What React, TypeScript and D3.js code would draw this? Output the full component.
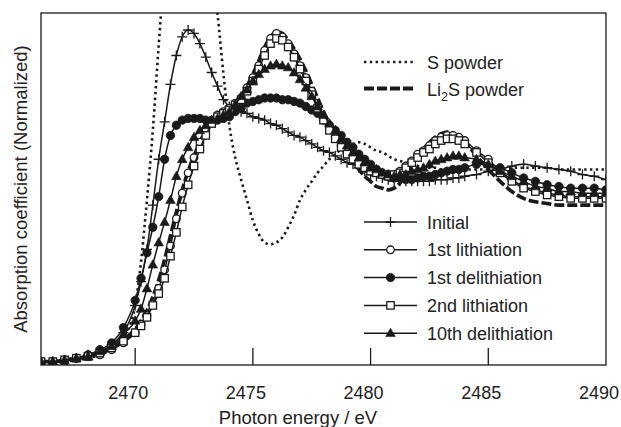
import React from 'react';
import * as d3 from 'd3';

const energy = [2466, 2466.5, 2467, 2467.5, 2468, 2468.5, 2469, 2469.5,
  2470, 2470.25, 2470.5, 2470.75, 2471, 2471.25, 2471.5, 2471.75,
  2472, 2472.25, 2472.5, 2472.75, 2473, 2473.25, 2473.5, 2473.75,
  2474, 2474.25, 2474.5, 2474.75, 2475, 2475.25, 2475.5, 2475.75,
  2476, 2476.25, 2476.5, 2476.75, 2477, 2477.25, 2477.5, 2477.75,
  2478, 2478.25, 2478.5, 2478.75, 2479, 2479.25, 2479.5, 2479.75,
  2480, 2480.25, 2480.5, 2480.75, 2481, 2481.25, 2481.5, 2481.75,
  2482, 2482.25, 2482.5, 2482.75, 2483, 2483.25, 2483.5, 2483.75,
  2484,
  2484.5, 2485, 2485.5, 2486, 2486.5, 2487, 2487.5, 2488, 2488.5, 2489, 2489.5, 2490];

const sPowder = [0.02, 0.02, 0.02, 0.03, 0.04, 0.06, 0.09, 0.16,
  0.35, 0.61, 0.97, 1.38, 1.88, 2.32, 2.62, 2.79,
  2.88, 2.91, 2.88, 2.78, 2.59, 2.32, 2.06, 1.71,
  1.41, 1.22, 1.09, 0.97, 0.85, 0.77, 0.72, 0.71,
  0.72, 0.75, 0.81, 0.88, 0.97, 1.03, 1.08, 1.13,
  1.17, 1.21, 1.24, 1.27, 1.29, 1.30, 1.31, 1.30,
  1.28, 1.26, 1.25, 1.23, 1.21, 1.20, 1.19, 1.18,
  1.17, 1.16, 1.16, 1.16, 1.15, 1.15, 1.15, 1.15,
  1.15,
  1.15, 1.15, 1.15, 1.16, 1.16, 1.16, 1.16, 1.15, 1.15, 1.15, 1.15, 1.15];

const li2sPowder = [0.02, 0.02, 0.03, 0.04, 0.05, 0.07, 0.10, 0.15,
  0.21, 0.26, 0.32, 0.40, 0.50, 0.62, 0.76, 0.90,
  1.03, 1.14, 1.23, 1.31, 1.38, 1.43, 1.46, 1.49,
  1.51, 1.54, 1.58, 1.64, 1.71, 1.79, 1.87, 1.93,
  1.96, 1.95, 1.91, 1.86, 1.80, 1.73, 1.65, 1.57,
  1.49, 1.42, 1.36, 1.30, 1.25, 1.20, 1.15, 1.11,
  1.08, 1.05, 1.04, 1.03, 1.04, 1.07, 1.12, 1.18,
  1.23, 1.27, 1.31, 1.34, 1.36, 1.37, 1.36, 1.34,
  1.31,
  1.23, 1.15, 1.08, 1.02, 0.98, 0.96, 0.95, 0.94, 0.94, 0.94, 0.94, 0.94];

const initial = [0.02, 0.02, 0.03, 0.04, 0.06, 0.08, 0.12, 0.19,
  0.35, 0.49, 0.68, 0.94, 1.21, 1.43, 1.65, 1.82,
  1.93, 1.97, 1.95, 1.89, 1.81, 1.72, 1.64, 1.56,
  1.52, 1.50, 1.49, 1.48, 1.46, 1.45, 1.44, 1.42,
  1.41, 1.39, 1.37, 1.35, 1.34, 1.32, 1.30, 1.28,
  1.26, 1.25, 1.23, 1.21, 1.19, 1.18, 1.16, 1.14,
  1.12, 1.11, 1.10, 1.09, 1.08, 1.08, 1.08, 1.08,
  1.08, 1.08, 1.08, 1.09, 1.09, 1.09, 1.10, 1.10,
  1.11,
  1.12, 1.14, 1.15, 1.17, 1.18, 1.17, 1.16, 1.15, 1.14, 1.12, 1.11, 1.09];

const lith1 = [0.02, 0.02, 0.02, 0.04, 0.05, 0.06, 0.09, 0.13,
  0.19, 0.24, 0.29, 0.36, 0.45, 0.56, 0.70, 0.86,
  1.01, 1.13, 1.22, 1.31, 1.38, 1.44, 1.47, 1.49,
  1.51, 1.54, 1.57, 1.63, 1.69, 1.76, 1.85, 1.92,
  1.95, 1.93, 1.89, 1.83, 1.76, 1.69, 1.61, 1.52,
  1.45, 1.39, 1.34, 1.29, 1.25, 1.22, 1.19, 1.16,
  1.15, 1.14, 1.12, 1.12, 1.12, 1.14, 1.17, 1.20,
  1.24, 1.26, 1.29, 1.32, 1.34, 1.35, 1.35, 1.34,
  1.32,
  1.26, 1.21, 1.14, 1.09, 1.05, 1.03, 1.01, 1.00, 0.99, 0.99, 0.99, 0.99];

const delith1 = [0.02, 0.02, 0.03, 0.04, 0.06, 0.09, 0.13, 0.22,
  0.38, 0.51, 0.66, 0.81, 0.99, 1.21, 1.35, 1.41,
  1.44, 1.45, 1.45, 1.45, 1.44, 1.43, 1.44, 1.45,
  1.46, 1.49, 1.51, 1.54, 1.55, 1.56, 1.57, 1.57,
  1.57, 1.56, 1.56, 1.55, 1.54, 1.52, 1.50, 1.48,
  1.44, 1.41, 1.38, 1.35, 1.31, 1.28, 1.24, 1.21,
  1.18, 1.15, 1.13, 1.11, 1.10, 1.10, 1.09, 1.09,
  1.10, 1.11, 1.11, 1.12, 1.13, 1.14, 1.15, 1.15,
  1.16,
  1.18, 1.18, 1.16, 1.13, 1.10, 1.08, 1.06, 1.05, 1.04, 1.04, 1.04, 1.03];

const lith2 = [0.02, 0.02, 0.03, 0.04, 0.05, 0.07, 0.10, 0.14,
  0.19, 0.23, 0.28, 0.35, 0.42, 0.51, 0.64, 0.78,
  0.93, 1.06, 1.17, 1.27, 1.35, 1.42, 1.46, 1.48,
  1.50, 1.53, 1.56, 1.61, 1.67, 1.74, 1.82, 1.89,
  1.92, 1.91, 1.87, 1.81, 1.74, 1.67, 1.59, 1.51,
  1.44, 1.38, 1.33, 1.28, 1.24, 1.21, 1.18, 1.16,
  1.14, 1.13, 1.12, 1.11, 1.12, 1.13, 1.16, 1.19,
  1.22, 1.25, 1.27, 1.30, 1.32, 1.33, 1.33, 1.32,
  1.30,
  1.25, 1.19, 1.13, 1.08, 1.04, 1.02, 1.00, 0.99, 0.98, 0.98, 0.98, 0.98];

const delith10 = [0.02, 0.02, 0.03, 0.04, 0.05, 0.08, 0.11, 0.18,
  0.26, 0.33, 0.45, 0.59, 0.72, 0.84, 0.97, 1.11,
  1.21, 1.28, 1.34, 1.38, 1.41, 1.44, 1.45, 1.47,
  1.49, 1.53, 1.58, 1.62, 1.67, 1.71, 1.74, 1.76,
  1.77, 1.76, 1.75, 1.72, 1.68, 1.63, 1.58, 1.52,
  1.47, 1.42, 1.38, 1.33, 1.29, 1.25, 1.22, 1.19,
  1.16, 1.15, 1.13, 1.12, 1.11, 1.12, 1.12, 1.14,
  1.15, 1.16, 1.18, 1.20, 1.21, 1.22, 1.23, 1.23,
  1.22,
  1.21, 1.18, 1.14, 1.11, 1.08, 1.05, 1.04, 1.02, 1.02, 1.01, 1.01, 1.01];

const xTicks = [2470, 2475, 2480, 2485, 2490];
const xDomain = [2466, 2490];
const yDomain = [0, 2.07];

const seriesNames = ['Initial', '1st lithiation', '1st delithiation', '2nd lithiation', '10th delithiation'];
const seriesValues = [initial, lith1, delith1, lith2, delith10];
const seriesMarkers = ['plus', 'circleOpen', 'circleFilled', 'squareOpen', 'triangleFilled'];

const FONT = '"Liberation Sans", Arial, Helvetica, sans-serif';
const INK = '#1a1a1a';

function Marker({ kind, cx, cy }: { kind: string; cx: number; cy: number }) {
  switch (kind) {
    case 'plus':
      return <path d={`M${cx - 5},${cy}H${cx + 5}M${cx},${cy - 5}V${cy + 5}`} stroke={INK} strokeWidth={1.3} fill="none" />;
    case 'circleOpen':
      return <circle cx={cx} cy={cy} r={3.8} fill="#fff" stroke={INK} strokeWidth={1.3} />;
    case 'circleFilled':
      return <circle cx={cx} cy={cy} r={4.2} fill={INK} stroke={INK} strokeWidth={0.8} />;
    case 'squareOpen':
      return <rect x={cx - 3.7} y={cy - 3.7} width={7.4} height={7.4} fill="#fff" stroke={INK} strokeWidth={1.3} />;
    case 'triangleFilled':
      return <path d={`M${cx},${cy - 5}L${cx + 4.8},${cy + 3.4}L${cx - 4.8},${cy + 3.4}Z`} fill={INK} stroke={INK} strokeWidth={0.6} />;
    default:
      return null;
  }
}

export default function App() {
  const W = 621, H = 427;
  const left = 41, right = 606, top = 13, bottom = 365;
  const x = d3.scaleLinear().domain(xDomain).range([left, right]);
  const y = d3.scaleLinear().domain(yDomain).range([bottom, top]);
  const line = d3.line<number>()
    .x((_, i) => x(energy[i]))
    .y((d) => y(d))
    .curve(d3.curveMonotoneX);

  const legendX1 = 364, legendX2 = 417, legendText = 427;
  const legendY0 = 222, legendDY = 27.8;

  return (
    <svg width={W} height={H} style={{ position: 'absolute', left: 0, top: 0, background: '#fff' }}
      fontFamily={FONT}>
      <defs>
        <clipPath id="plotClip">
          <rect x={left} y={top} width={right - left} height={bottom - top} />
        </clipPath>
      </defs>
      <rect x={0} y={0} width={W} height={H} fill="#fff" />
      <g clipPath="url(#plotClip)">
        <path d={line(sPowder) || ''} fill="none" stroke={INK} strokeWidth={2.6} strokeDasharray="2.4 3.4" />
        <path d={line(li2sPowder) || ''} fill="none" stroke={INK} strokeWidth={3.6} strokeDasharray="10 3" />
        {seriesValues.map((vals, s) => (
          <g key={s}>
            <path d={line(vals) || ''} fill="none" stroke={INK} strokeWidth={1.5} />
            {vals.map((v, i) => (
              <Marker key={i} kind={seriesMarkers[s]} cx={x(energy[i])} cy={y(v)} />
            ))}
          </g>
        ))}
      </g>
      {/* frame */}
      <rect x={left} y={top} width={right - left} height={bottom - top} fill="none" stroke={INK} strokeWidth={1.3} />
      {/* ticks */}
      {xTicks.map((t) => (
        <g key={t}>
          {t < xDomain[1] && <line x1={x(t)} x2={x(t)} y1={bottom} y2={bottom - 17} stroke={INK} strokeWidth={1.3} />}
          <text x={x(t) - 7} y={399} textAnchor="middle" fontSize={18} fill="#222">{t}</text>
        </g>
      ))}
      <text x={298} y={424} textAnchor="middle" fontSize={18.5} fill="#222">Photon energy / eV</text>
      <text transform={`translate(27,${(top + bottom) / 2}) rotate(-90)`} textAnchor="middle" fontSize={18.5} fill="#222">
        Absorption coefficient (Normalized)
      </text>
      {/* top legend */}
      <line x1={legendX1} x2={legendX2 - 2} y1={62} y2={62} stroke={INK} strokeWidth={2.6} strokeDasharray="2.4 3.4" />
      <text x={legendText} y={68.5} fontSize={18} fill="#222">S powder</text>
      <line x1={legendX1} x2={legendX2 - 2} y1={88.5} y2={88.5} stroke={INK} strokeWidth={3.8} strokeDasharray="10 3" />
      <text x={legendText} y={96} fontSize={18} fill="#222">
        Li<tspan fontSize={12.5} dy={5}>2</tspan><tspan dy={-5}>S powder</tspan>
      </text>
      {/* lower legend */}
      {seriesNames.map((name, s) => {
        const ly = legendY0 + s * legendDY;
        return (
          <g key={name}>
            <line x1={legendX1} x2={legendX2} y1={ly} y2={ly} stroke={INK} strokeWidth={1.5} />
            <Marker kind={seriesMarkers[s]} cx={(legendX1 + legendX2) / 2} cy={ly} />
            <text x={legendText} y={ly + 6.5} fontSize={18} fill="#222">{name}</text>
          </g>
        );
      })}
    </svg>
  );
}
